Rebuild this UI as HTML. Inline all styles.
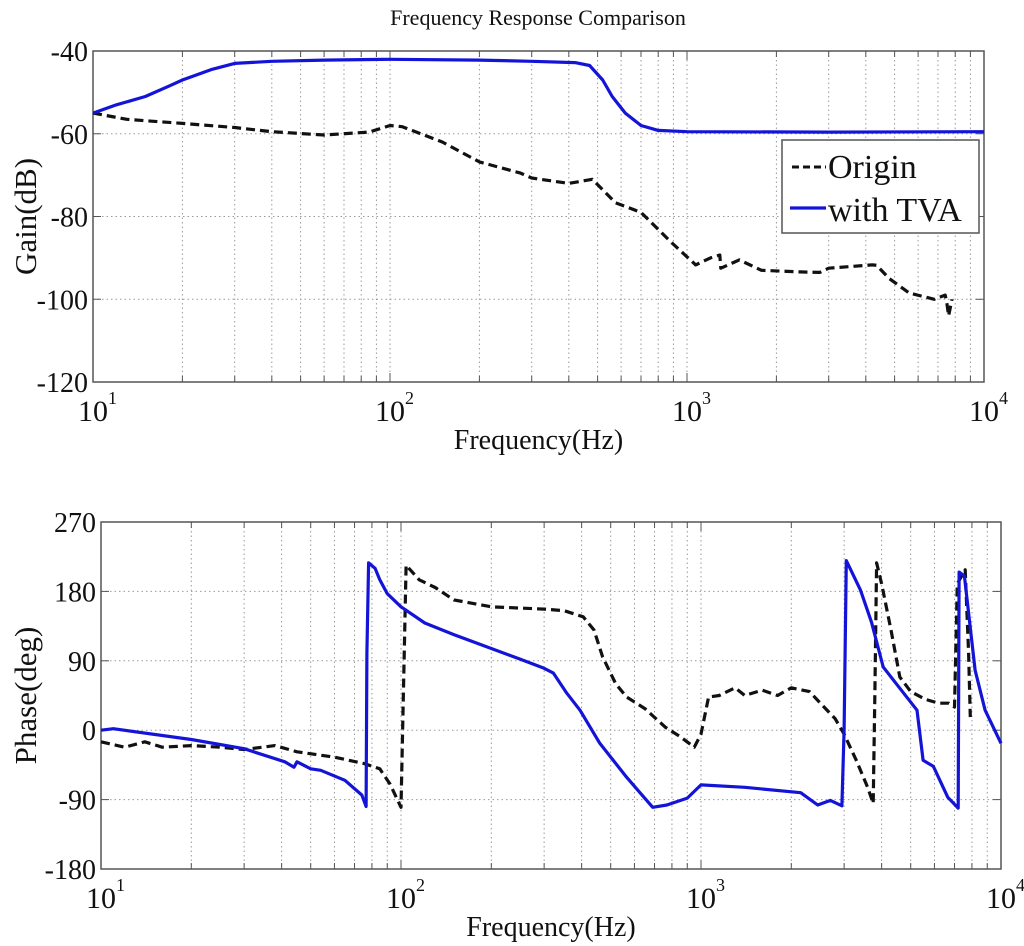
<!DOCTYPE html>
<html><head><meta charset="utf-8"><style>
html,body{margin:0;padding:0;background:#fff;}
svg{display:block;font-family:"Liberation Serif",serif;}
</style></head><body>
<svg id="chart" width="1024" height="946" viewBox="0 0 1024 946"></svg>
<script>
// ---- data ----
const gainTicks = [-40, -60, -80, -100, -120];
const phaseTicks = [270, 180, 90, 0, -90, -180];
const decadeLabels = ["1", "2", "3", "4"];
const seriesNames = ["Origin", "with TVA"];
const gainTVAf = [10,12,15,18,20,25,30,40,60,100,200,300,420,470,520,560,620,700,800,1000,3000,10000];
const gainTVAv = [-55,-53,-51,-48.5,-47,-44.5,-43,-42.5,-42.2,-42,-42.2,-42.5,-42.8,-43.5,-47,-51,-55,-58,-59.2,-59.5,-59.6,-59.5];
const gainOrgf = [10,13,16,20,30,40,60,85,100,110,150,200,275,300,400,480,575,700,890,1070,1200,1290,1300,1500,1780,2400,2800,3000,4200,4350,4800,5600,6800,7400,7500,7600,7800];
const gainOrgv = [-55,-56.5,-57,-57.5,-58.5,-59.5,-60.3,-59.6,-58,-58.3,-62,-66.8,-69.5,-70.7,-72,-71,-76.7,-79,-86.4,-91.7,-90,-89.3,-92.5,-90.5,-93,-93.4,-93.5,-92.5,-91.7,-91.8,-95,-98.5,-100,-99,-101,-104,-100];
const phTVAf = [10,11,20,30,41,44,45,50,54,65,74,76.5,77,78,82,85,90,100,120,150,200,250,297,322,357,395,460,565,690,770,900,1000,1400,2150,2450,2700,2950,3000,3050,3400,3700,4050,5250,5500,5950,6650,7200,7250,7550,8200,8850,10000];
const phTVAv = [0,2,-12,-24,-41,-48,-41,-50,-52,-65,-84,-99,100,217,210,195,177,160,139,124,106,92,81,74,48,26,-17,-61,-100,-97,-88,-71,-74,-81,-97,-91,-98,0,220,182,140,82,26,-39,-47,-87,-101,205,200,78,26,-17];
const phOrgf = [10,12,14,16,20,25,30,38,45,60,75,85,92,100,102,104,115,130,150,200,300,350,405,440,470,520,565,650,760,850,950,1000,1060,1150,1300,1400,1600,1800,2000,2300,2500,2800,3000,3300,3600,3750,3800,3850,4000,4300,4600,5000,5600,6200,6700,7000,7150,7600,7800,7900];
const phOrgv = [-15,-22,-15,-22,-20,-22,-25,-20,-28,-35,-43,-50,-70,-100,60,214,195,185,169,160,157,155,147,130,95,60,43,28,4,-8,-22,-5,43,45,55,45,52,45,55,50,35,15,-5,-40,-75,-95,50,217,190,130,69,50,40,35,35,30,190,208,100,17];

const svg = document.getElementById('chart');
const NS = 'http://www.w3.org/2000/svg';
function mk(tag, attrs, parent){const e=document.createElementNS(NS,tag);for(const k in attrs)e.setAttribute(k,attrs[k]);(parent||svg).appendChild(e);return e;}

function axes(cfg){
  const {L,R,T,B,ymin,ymax,ticks,name,ylabel,ylx} = cfg;
  const x = f => L + (Math.log10(f)-1)/3*(R-L);
  const y = v => T + (ymax-v)/(ymax-ymin)*(B-T);
  const g = mk('g',{});
  
  
  for(let d=1; d<4; d++){
    for(let m=1; m<=10; m++){
      const f = m*Math.pow(10,d); const xx = x(f);
      if(m>1 && m<10 || (m===1 && d>1)){
        if(xx<R-1) mk('line',{x1:xx,y1:T,x2:xx,y2:B,stroke:'#9a9a9a','stroke-width':1,'stroke-dasharray':'1.5,3'},g);
      }
      mk('line',{x1:xx,y1:B,x2:xx,y2:B-(m===1||m===10?9:6),stroke:'#555','stroke-width':1},g);
      mk('line',{x1:xx,y1:T,x2:xx,y2:T+(m===1||m===10?9:6),stroke:'#555','stroke-width':1},g);
    }
  }
  ticks.forEach(v=>{
    const yy=y(v);
    if(v!==ymin && v!==ymax) mk('line',{x1:L,y1:yy,x2:R,y2:yy,stroke:'#9a9a9a','stroke-width':1,'stroke-dasharray':'1.5,3'},g);
    mk('line',{x1:L,y1:yy,x2:L+8,y2:yy,stroke:'#555'},g);
    mk('line',{x1:R,y1:yy,x2:R-8,y2:yy,stroke:'#555'},g);
    const t = mk('text',{x:L-5,y:yy+10,'text-anchor':'end','font-size':28,fill:'#111'},g);
    t.textContent = v;
    
    
  });
  mk('rect',{x:L,y:T,width:R-L,height:B-T,fill:'none',stroke:'#555','stroke-width':1.5},g);
  decadeLabels.forEach((s,i)=>{
    const xx = L + i*(R-L)/3;
    const t = mk('text',{x:xx-15,y:B+39,'font-size':30,fill:'#111'},g);
    t.textContent='10';
    
    
    const s2 = mk('text',{x:xx+15,y:B+22,'font-size':18,fill:'#111'},g);
    s2.textContent=s;
  });
  const xl = mk('text',{x:(L+R)/2,y:B+67,'text-anchor':'middle','font-size':28,fill:'#111'},g);
  xl.textContent='Frequency(Hz)';
  
  
  const yl = mk('text',{x:0,y:0,'text-anchor':'middle','font-size':31,fill:'#111',transform:`translate(${ylx},${(T+B)/2}) rotate(-90)`},g);
  yl.textContent=ylabel;
  
  
  return {x,y};
}
function line(ax, fs, vs, color, dash, name){
  const d = fs.map((f,i)=>(i?'L':'M')+ax.x(f).toFixed(1)+','+ax.y(vs[i]).toFixed(1)).join(' ');
  const p = mk('path',{d:d,fill:'none',stroke:color,'stroke-width':3.2,'stroke-dasharray':dash||'none','stroke-linejoin':'round'});
  
  
}

const title = mk('text',{x:538,y:25,'text-anchor':'middle','font-size':22,fill:'#111'});
title.textContent='Frequency Response Comparison';



const topAx = axes({L:93,R:984,T:51,B:382,ymin:-120,ymax:-40,ticks:gainTicks,name:'gain',ylabel:'Gain(dB)',ylx:36});
line(topAx, gainOrgf, gainOrgv, '#111', '9,5', 'origin-gain-line');
line(topAx, gainTVAf, gainTVAv, '#1414d8', '', 'tva-gain-line');

const botAx = axes({L:101,R:1001,T:522,B:869,ymin:-180,ymax:270,ticks:phaseTicks,name:'phase',ylabel:'Phase(deg)',ylx:36});
line(botAx, phOrgf, phOrgv, '#111', '9,5', 'origin-phase-line');
line(botAx, phTVAf, phTVAv, '#1414d8', '', 'tva-phase-line');

const lg = mk('g',{});


mk('rect',{x:782,y:140,width:197,height:93,fill:'#fff',stroke:'#555','stroke-width':1.5},lg);
mk('line',{x1:792,y1:167,x2:826,y2:167,stroke:'#111','stroke-width':3,'stroke-dasharray':'7,4'},lg);
mk('line',{x1:790,y1:208,x2:826,y2:208,stroke:'#1414d8','stroke-width':3.2},lg);
const l1 = mk('text',{x:828,y:178,'font-size':34,fill:'#111'},lg);
l1.textContent=seriesNames[0];


const l2 = mk('text',{x:828,y:221,'font-size':34,fill:'#111'},lg);
l2.textContent=seriesNames[1];


</script>
</body></html>
